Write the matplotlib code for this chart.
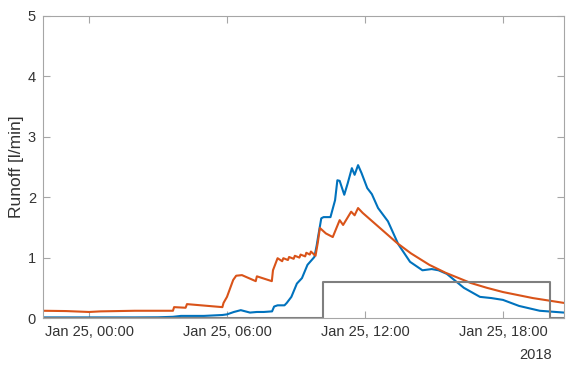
import numpy as np
import pandas as pd
import matplotlib
matplotlib.use("Agg")
import matplotlib.pyplot as plt
import matplotlib.dates as mdates

plt.rcParams['font.family'] = ['Liberation Sans', 'DejaVu Sans']

base = pd.Timestamp("2018-01-25 00:00")

# Measured runoff (hours relative to Jan 25 00:00, l/min)
meas_h = [-2.0, -1.0, 0.0, 1.0, 2.0, 3.0, 3.65, 4.0, 5.0, 5.8, 6.0, 6.3, 6.6, 7.0, 7.3,
          7.6, 7.96, 8.05, 8.2, 8.5, 8.6, 8.8, 9.04, 9.26, 9.5, 9.8, 9.9, 9.96, 10.1,
          10.2, 10.5, 10.7, 10.8, 10.9, 11.1, 11.25, 11.43, 11.55, 11.7, 11.85, 12.1,
          12.3, 12.57, 13.0, 13.45, 13.96, 14.5, 14.9, 15.2, 15.56, 16.3, 17.0, 17.5,
          18.0, 18.7, 19.6, 20.65]
meas_v = [0.01, 0.01, 0.01, 0.01, 0.01, 0.012, 0.02, 0.035, 0.035, 0.05, 0.06, 0.10,
          0.13, 0.09, 0.10, 0.10, 0.11, 0.19, 0.21, 0.21, 0.25, 0.35, 0.57, 0.66,
          0.88, 1.01, 1.2, 1.34, 1.65, 1.67, 1.67, 1.95, 2.28, 2.27, 2.04, 2.23, 2.48,
          2.37, 2.53, 2.40, 2.15, 2.05, 1.82, 1.60, 1.22, 0.93, 0.79, 0.81, 0.79,
          0.73, 0.50, 0.35, 0.33, 0.30, 0.20, 0.12, 0.09]

# Simulated runoff
sim_h = [-2.0, -1.0, 0.0, 0.5, 2.0, 3.65, 3.7, 4.2, 4.26, 5.8, 5.85, 6.0, 6.27, 6.4,
         6.65, 7.25, 7.3, 7.95, 8.0, 8.09, 8.2, 8.4, 8.45, 8.65, 8.7, 8.9, 8.95,
         9.15, 9.2, 9.4, 9.45, 9.6, 9.65, 9.85, 9.95, 10.04, 10.3, 10.6, 10.9, 11.05,
         11.4, 11.55, 11.7, 11.9, 12.65, 13.4, 14.0, 14.8, 15.5, 16.6,
         17.3, 18.0, 19.3, 20.65]
sim_v = [0.12, 0.115, 0.10, 0.11, 0.12, 0.12, 0.18, 0.17, 0.23, 0.18, 0.25, 0.35,
         0.63, 0.70, 0.71, 0.61, 0.69, 0.61, 0.79, 0.88, 0.99, 0.94, 0.99, 0.96,
         1.01, 0.98, 1.03, 1.00, 1.05, 1.02, 1.08, 1.05, 1.10, 1.03, 1.25, 1.49,
         1.40, 1.34, 1.62, 1.54, 1.76, 1.70, 1.82, 1.74, 1.49, 1.24,
         1.07, 0.88, 0.75, 0.58, 0.50, 0.43, 0.33, 0.25]

# Sprinkling intensity step
rain_h = [-2.0, 10.17, 20.04, 20.65]
rain_v = [0.0, 0.6, 0.0, 0.0]

def to_time(hours):
    return base + pd.to_timedelta(np.asarray(hours), unit="h")

fig = plt.figure(figsize=(5.69, 3.70), dpi=100)
ax = fig.add_axes([0.0756, 0.1405, 0.9154, 0.8165])

ax.plot(to_time(meas_h), meas_v, color="#0072BD", lw=1.5)
ax.plot(to_time(sim_h), sim_v, color="#D95319", lw=1.5)
ax.plot(to_time(rain_h), rain_v, color="#7f7f7f", lw=1.5, drawstyle="steps-post")

ax.set_xlim(to_time([-2.0])[0], to_time([20.65])[0])
ax.set_ylim(0, 5)
ax.set_yticks([0, 1, 2, 3, 4, 5])
ax.set_xticks(to_time([0, 6, 12, 18]))
ax.xaxis.set_major_formatter(mdates.DateFormatter("%b %d, %H:%M"))

axis_col = "#a6a6a6"
for s in ax.spines.values():
    s.set_color(axis_col)
    s.set_linewidth(0.8)
ax.tick_params(direction="in", length=5, color=axis_col, labelcolor="#333333",
               labelsize=10.5, top=True, right=True, pad=5)
ax.set_ylabel("Runoff [l/min]", fontsize=12.5, color="#333333", labelpad=3)
ax.text(0.945, -0.098, "2018", transform=ax.transAxes, ha="center", va="top",
        fontsize=10.5, color="#333333")

fig.savefig("out.png", dpi=100)
